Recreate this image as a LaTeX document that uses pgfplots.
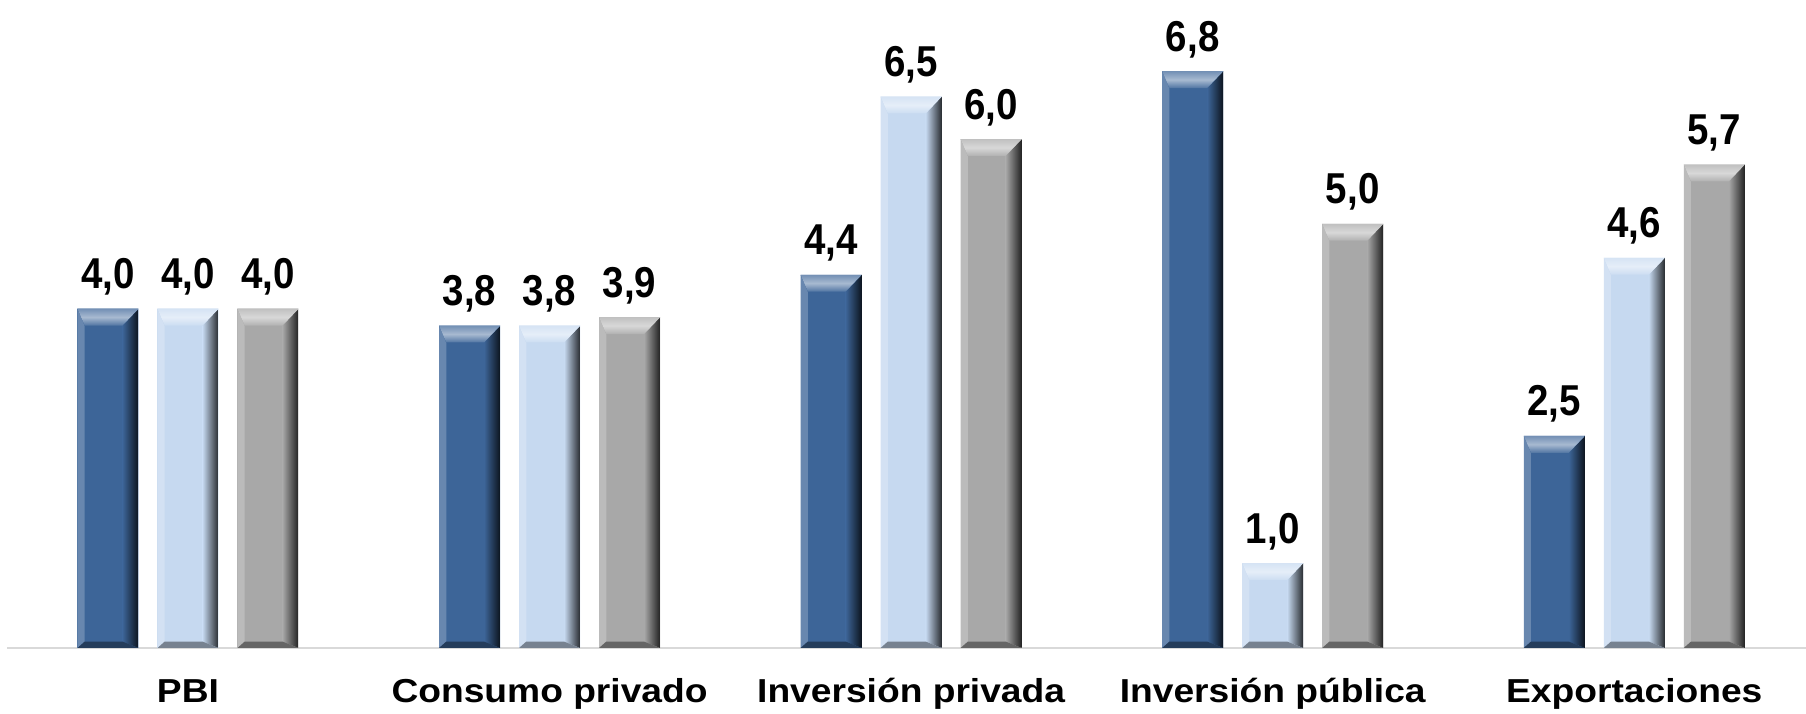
\documentclass[border=0pt]{standalone}
\usepackage{pgfplots}
\pgfplotsset{compat=1.18}
\usepackage{pgfplotstable}
\usepackage{fontspec}
\setmainfont{Liberation Sans}
\newfontfamily\widesans{Liberation Sans}[FakeStretch=1.12]
\newfontfamily\numsans{Liberation Sans}[FakeStretch=0.89]
\usetikzlibrary{calc}

\definecolor{barA}{HTML}{3D6598}
\definecolor{barB}{HTML}{C6D9F0}
\definecolor{barC}{HTML}{A8A8A8}
\definecolor{axisgray}{HTML}{D9D9D9}

% bevelled bar: lighter top face, shaded right face, darker bottom edge
\newif\ifbevelinner
\tikzset{
  bevel/.style={fill=#1, draw=none, path picture={%
    \ifbevelinner\else
    \bevelinnertrue
    % left face
    \fill[#1!78!white] (path picture bounding box.north west)
      -- ($(path picture bounding box.north west)+(1.8pt,-4.2pt)$)
      -- ($(path picture bounding box.south west)+(1.8pt,1.6pt)$)
      -- (path picture bounding box.south west) -- cycle;
    % right face
    \shade[left color=#1, right color=#1!20!black]
      (path picture bounding box.north east)
      -- (path picture bounding box.south east)
      -- ($(path picture bounding box.south east)+(-4pt,1.6pt)$)
      -- ($(path picture bounding box.north east)+(-4pt,-4.2pt)$) -- cycle;
    % bottom face
    \fill[#1!60!black] (path picture bounding box.south west)
      -- (path picture bounding box.south east)
      -- ($(path picture bounding box.south east)+(-4pt,1.6pt)$)
      -- ($(path picture bounding box.south west)+(1.8pt,1.6pt)$) -- cycle;
    % top face
    \shade[top color=#1!72!white, bottom color=#1!90!white, middle color=#1!45!white]
      (path picture bounding box.north west)
      -- (path picture bounding box.north east)
      -- ($(path picture bounding box.north east)+(-4pt,-4.2pt)$)
      -- ($(path picture bounding box.north west)+(1.8pt,-4.2pt)$) -- cycle;
    \fi
  }},
}
% value labels above the bars
\pgfplotsset{
  valuelabel/.style={draw=none, fill=none, bar shift=#1,
    nodes near coords={\pgfmathprintnumber[fixed, fixed zerofill, precision=1, use comma, assume math mode=true]{\pgfplotspointmeta}},
    every node near coord/.append style={font=\numsans\bfseries\fontsize{10.8pt}{12pt}\selectfont,
      text=black, anchor=base, yshift=5pt}},
}

\pgfplotstableread{
x  a   b   c
0  4.0 4.0 4.0
1  3.8 3.8 3.9
2  4.4 6.5 6.0
3  6.8 1.0 5.0
4  2.5 4.6 5.7
}\growthdata

\begin{document}
\begin{tikzpicture}
\begin{axis}[
  scale only axis,
  width=449.7pt, height=162pt,
  xmin=-0.5, xmax=4.475, ymin=0, ymax=7.64,
  ybar, bar width=15.25pt,
  axis y line=none,
  axis x line=bottom,
  x axis line style={draw=axisgray, line width=0.6pt, -},
  xtick={0,1,2,3,4},
  xticklabels={PBI, Consumo privado, Inversión privada, Inversión pública, Exportaciones},
  major tick length=0pt,
  xticklabel style={font=\widesans\bfseries\fontsize{8.3pt}{10pt}\selectfont,
    anchor=base, inner sep=0pt, yshift=-13.6pt},
  clip=false,
]
% one path per bar, so that every bar gets its own bevel
\pgfplotsinvokeforeach{0,...,4}{
  \addplot[bevel=barA, bar shift=-20pt, restrict x to domain=#1:#1] table[x=x, y=a] {\growthdata};
  \addplot[bevel=barB, bar shift=0pt,   restrict x to domain=#1:#1] table[x=x, y=b] {\growthdata};
  \addplot[bevel=barC, bar shift=20pt,  restrict x to domain=#1:#1] table[x=x, y=c] {\growthdata};
}
\addplot[valuelabel=-20pt] table[x=x, y=a] {\growthdata};
\addplot[valuelabel=0pt] table[x=x, y=b] {\growthdata};
\addplot[valuelabel=20pt] table[x=x, y=c] {\growthdata};
\end{axis}
\pgfresetboundingbox
\path[use as bounding box] (-1.8pt,-16.5pt) rectangle (449.7pt,162pt);
\end{tikzpicture}
\end{document}
